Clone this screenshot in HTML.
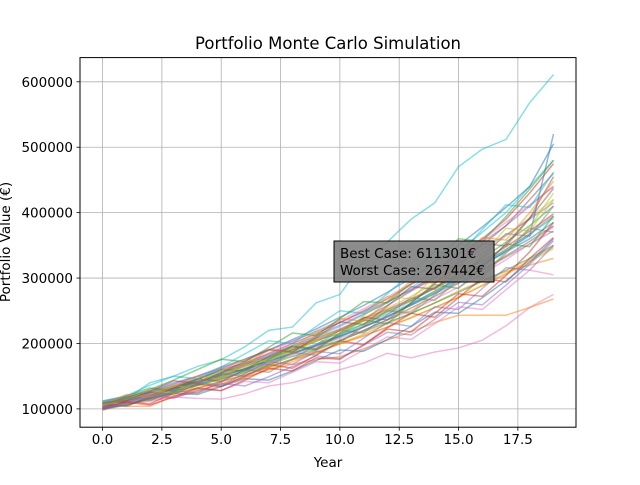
<!DOCTYPE html>
<html><head><meta charset="utf-8"><style>
body{margin:0;background:#fff;}
svg text{font-family:"DejaVu Sans","Liberation Sans",sans-serif;}
</style></head><body>
<svg id="chart" width="640" height="480" xmlns="http://www.w3.org/2000/svg">
<rect width="640" height="480" fill="#fff"/>
<g id="grid"></g>
<g id="lines"></g>
<rect x="80" y="57.6" width="496" height="369.6" fill="none" stroke="#000" stroke-width="1"/>
<g id="ticks"></g>
<text x="328" y="49" font-size="16.5" text-anchor="middle">Portfolio Monte Carlo Simulation</text>
<text x="328" y="467" font-size="13.5" text-anchor="middle">Year</text>
<text transform="translate(10,242) rotate(-90)" font-size="13.5" text-anchor="middle">Portfolio Value (€)</text>
<g>
<rect x="334" y="241" width="160" height="41" fill="#808080" fill-opacity="0.9" stroke="#000" stroke-width="1"/>
<text x="340" y="258" font-size="13.5">Best Case: 611301€</text>
<text x="340" y="275" font-size="13.5">Worst Case: 267442€</text>
</g>
</svg>
<script>
const years=[0,1,2,3,4,5,6,7,8,9,10,11,12,13,14,15,16,17,18,19];
const xTicks=[0,2.5,5,7.5,10,12.5,15,17.5];
const xTickLabels=["0.0","2.5","5.0","7.5","10.0","12.5","15.0","17.5"];
const yTicks=[100000,200000,300000,400000,500000,600000];
const yTickLabels=["100000","200000","300000","400000","500000","600000"];
// simulated portfolio values (thousands of €)
const s1=[100,115,140,150,165,175,195,220,225,262,275,325,355,390,415,470,497,512,568,611];
const s2=[105,110,112,118,116,115,123,135,140,150,160,170,185,178,187,193,205,227,255,275];
const s3=[108,104,104,120,125,135,148,160,168,175,180,192,205,218,232,243,243,243,255,268];
const s4=[100,110,118,130,140,152,160,172,185,196,210,225,240,260,280,300,320,340,360,385];
const s5=[110,118,125,135,142,152,165,178,190,205,215,230,248,265,285,305,330,355,380,410];
const s6=[102,112,122,132,145,160,170,185,200,215,232,250,268,290,310,335,360,390,430,475];
const s7=[98,106,115,125,135,145,155,165,175,185,200,212,225,240,255,270,288,305,325,345];
const s8=[112,118,126,135,146,158,170,183,197,212,228,245,263,282,305,330,355,380,410,440];
const s9=[104,110,120,128,138,150,162,175,190,203,220,238,258,280,300,325,350,380,420,460];
const s10=[100,108,116,126,136,148,158,170,184,198,212,226,242,258,276,294,312,332,352,372];
const s11=[106,114,124,134,146,156,168,182,196,210,226,244,262,285,310,340,370,400,440,480];
const s12=[103,110,118,128,138,146,158,170,182,195,208,220,236,250,268,286,306,328,352,378];
const s13=[101,106,114,120,128,138,148,160,172,186,200,214,230,246,262,280,296,310,320,330];
const s14=[109,116,126,138,150,162,176,190,206,222,240,258,278,300,324,350,378,408,440,505];
const s15=[100,108,118,126,136,146,156,168,180,192,205,218,232,246,262,278,295,312,330,350];
const s16=[107,115,124,132,142,155,168,180,194,208,222,238,252,268,286,306,326,348,372,398];
const s17=[102,112,120,130,140,150,162,174,188,204,220,236,254,272,292,314,338,364,392,420];
const s18=[111,120,128,140,150,164,176,190,204,218,232,248,264,282,302,322,344,366,390,415];
const s19=[99,108,116,124,132,142,152,164,176,190,204,220,236,254,272,292,312,334,356,380];
const s20=[105,112,120,130,142,154,166,178,192,206,220,234,250,266,284,302,322,344,368,395];
const s21=[103,109,117,127,137,149,161,173,187,199,213,229,245,261,279,299,321,343,367,392];
const s22=[108,117,127,137,149,161,175,189,203,219,235,253,271,291,313,335,359,385,412,440];
const s23=[100,107,115,123,131,141,151,163,175,187,199,211,225,239,255,271,289,307,327,348];
const s24=[106,113,121,131,141,151,161,173,185,197,211,225,241,259,277,297,319,341,365,520];
const s25=[104,120,132,128,145,160,158,176,195,190,214,236,230,262,290,284,318,352,348,395];
const s26=[99,112,108,124,138,134,150,168,162,182,204,198,224,246,240,270,300,294,330,362];
const s27=[110,106,122,136,130,150,168,164,186,206,200,228,252,248,280,310,306,340,378,430];
const s28=[101,118,126,122,140,136,154,172,168,188,184,208,232,226,256,252,284,316,312,350];
const s29=[107,104,118,132,146,142,160,180,196,192,216,240,236,262,292,320,316,352,392,455];
const s30=[103,116,112,128,124,142,160,156,176,198,220,216,244,270,266,298,332,368,364,410];
const s31=[112,120,136,150,146,164,184,204,200,226,250,246,276,308,340,336,374,412,408,462];
const s32=[98,108,120,116,130,128,142,140,156,172,170,190,210,206,230,256,252,282,312,305];
const s33=[105,122,118,134,150,146,168,190,186,212,238,234,264,296,292,326,362,358,400,448];
const s34=[100,106,116,124,122,134,146,144,158,174,190,188,206,226,248,246,270,296,324,360];
const s35=[108,116,130,144,160,176,172,194,216,212,238,264,262,292,326,360,356,394,436,480];
const s36=[102,110,106,118,132,128,144,162,158,178,176,198,222,218,246,276,272,304,340,385];
const s37=[106,114,128,124,140,158,176,172,194,218,214,242,272,268,302,298,336,376,372,420];
const s38=[101,109,121,117,127,139,135,149,165,181,177,197,217,213,237,263,259,289,321,357];
const s39=[109,113,127,143,139,155,173,191,187,209,233,229,257,287,283,317,353,349,391,437];
const s40=[104,118,114,126,140,154,150,166,186,182,202,226,250,246,274,306,302,338,376,370];
const series=[s1,s2,s3,s4,s5,s6,s7,s8,s9,s10,s11,s12,s13,s14,s15,s16,s17,s18,s19,s20,s21,s22,s23,s24,s25,s26,s27,s28,s29,s30,s31,s32,s33,s34,s35,s36,s37,s38,s39,s40];
const colors=["#17becf","#e377c2","#ff7f0e","#1f77b4","#2ca02c","#d62728","#bcbd22","#9467bd","#8c564b","#7f7f7f"];
const L=80,R=576,T=57.6,B=427.2;
const X0=-0.95,X1=19.95,Y0=72000,Y1=637000;
function xs(v){return L+(v-X0)/(X1-X0)*(R-L);}
function ys(v){return B-(v-Y0)/(Y1-Y0)*(B-T);}
const NS="http://www.w3.org/2000/svg";
const grid=document.getElementById('grid'),tk=document.getElementById('ticks'),lg=document.getElementById('lines');
function mk(tag,attrs,parent){const e=document.createElementNS(NS,tag);for(const k in attrs)e.setAttribute(k,attrs[k]);parent.appendChild(e);return e;}
xTicks.forEach((t,i)=>{
  const x=xs(t);
  const g=mk('line',{x1:x,x2:x,y1:T,y2:B,stroke:'#b0b0b0','stroke-width':0.8},grid);
  
  
  const m=mk('line',{x1:x,x2:x,y1:B,y2:B+3.5,stroke:'#000','stroke-width':0.8},tk);
  
  
  const l=mk('text',{x:x,y:B+17,'font-size':13.5,'text-anchor':'middle'},tk);
  l.textContent=xTickLabels[i];
  
  
});
yTicks.forEach((t,i)=>{
  const y=ys(t);
  const g=mk('line',{x1:L,x2:R,y1:y,y2:y,stroke:'#b0b0b0','stroke-width':0.8},grid);
  
  
  const m=mk('line',{x1:L-3.5,x2:L,y1:y,y2:y,stroke:'#000','stroke-width':0.8},tk);
  
  
  const l=mk('text',{x:L-7,y:y+5,'font-size':13.5,'text-anchor':'end'},tk);
  l.textContent=yTickLabels[i];
  
  
});
series.forEach((s,i)=>{
  const d=s.map((v,j)=>(j?'L':'M')+xs(years[j]).toFixed(1)+' '+ys(v*1000).toFixed(1)).join(' ');
  const p=mk('path',{d:d,fill:'none',stroke:colors[i%colors.length],'stroke-width':1.5,'stroke-opacity':0.5},lg);
  
  
});
</script>
</body></html>
